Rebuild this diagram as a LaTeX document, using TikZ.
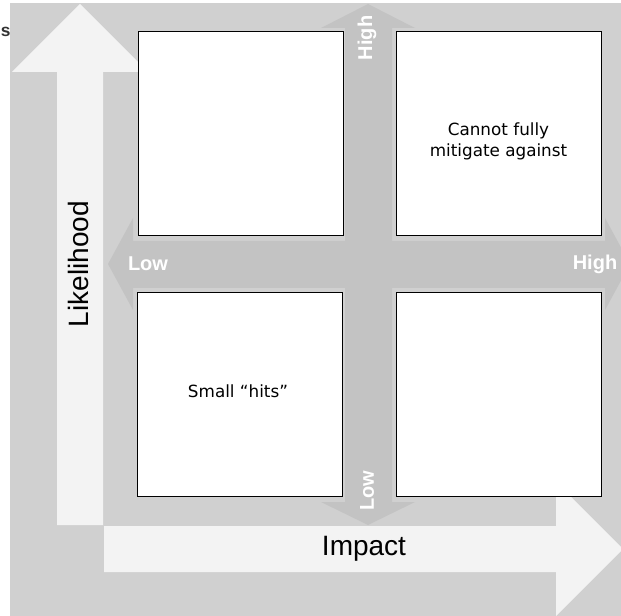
\documentclass[tikz,border=0pt]{standalone}
\usepackage{fontspec}
\setmainfont{Liberation Sans}
\newfontfamily\boxfont{DejaVu Sans}

\definecolor{bggray}{gray}{0.816}
\definecolor{lightarrow}{gray}{0.953}
\definecolor{crossgray}{gray}{0.765}

\begin{document}
\begin{tikzpicture}[x=0.75pt, y=-0.75pt,
    quadbox/.style={draw=black, fill=white, line width=0.75pt, inner sep=0pt,
                    minimum width=153.75pt, minimum height=153pt},
    boxtext/.style={align=center, inner sep=0pt, font=\boxfont\fontsize{12.6}{15.8}\selectfont},
    axistext/.style={inner sep=0pt, font=\fontsize{21}{25}\selectfont},
    leveltext/.style={inner sep=0pt, text=white, font=\bfseries\fontsize{15}{18}\selectfont}]
    \clip (0,0) rectangle (621,616);
    \node[anchor=west, inner sep=0pt, text=black!80, font=\bfseries\fontsize{13}{15}\selectfont] (cut) at (0.5,32) {s};
    \fill[bggray] (10,3) rectangle (621,616);
    % light axis arrows
    \fill[lightarrow] (57,525) -- (57,72) -- (12,72) -- (80,4) -- (148,72) -- (103,72) -- (103,525) -- cycle;
    \fill[lightarrow] (104,526) -- (556,526) -- (556,482) -- (623,549) -- (556,616) -- (556,572) -- (104,572) -- cycle;
    % the cross
    \fill[crossgray] (345,502) -- (345,28) -- (321,28) -- (368,4) -- (415,28) -- (392,28)
                     -- (392,502) -- (415,502) -- (368,525) -- (321,502) -- cycle;
    \fill[crossgray] (133,241) -- (605,241) -- (605,218) -- (630,264) -- (605,310) -- (605,288)
                     -- (133,288) -- (133,310) -- (108,264) -- (133,218) -- cycle;
    % quadrants
    \node[quadbox] (tl) at (240.5,134) {};
    \node[quadbox] (tr) at (498.5,134) {};
    \node[quadbox] (bl) at (239.5,394.5) {};
    \node[quadbox] (br) at (498.5,394.5) {};
    \node[boxtext] (trtext) at (498.5,141) {Cannot fully\\mitigate against};
    \node[boxtext] (bltext) at (238,391) {Small \textquotedblleft hits\textquotedblright};
    % labels
    \node[axistext, rotate=90] (likely) at (78,264) {Likelihood};
    \node[axistext] (impact) at (364,549) {Impact};
    \node[leveltext, rotate=90] (ihigh) at (367,38) {High};
    \node[leveltext, rotate=90] (ilow) at (367,491) {Low};
    \node[leveltext] (llow) at (148,264) {Low};
    \node[leveltext] (lhigh) at (595,264) {High};
\end{tikzpicture}
\end{document}
